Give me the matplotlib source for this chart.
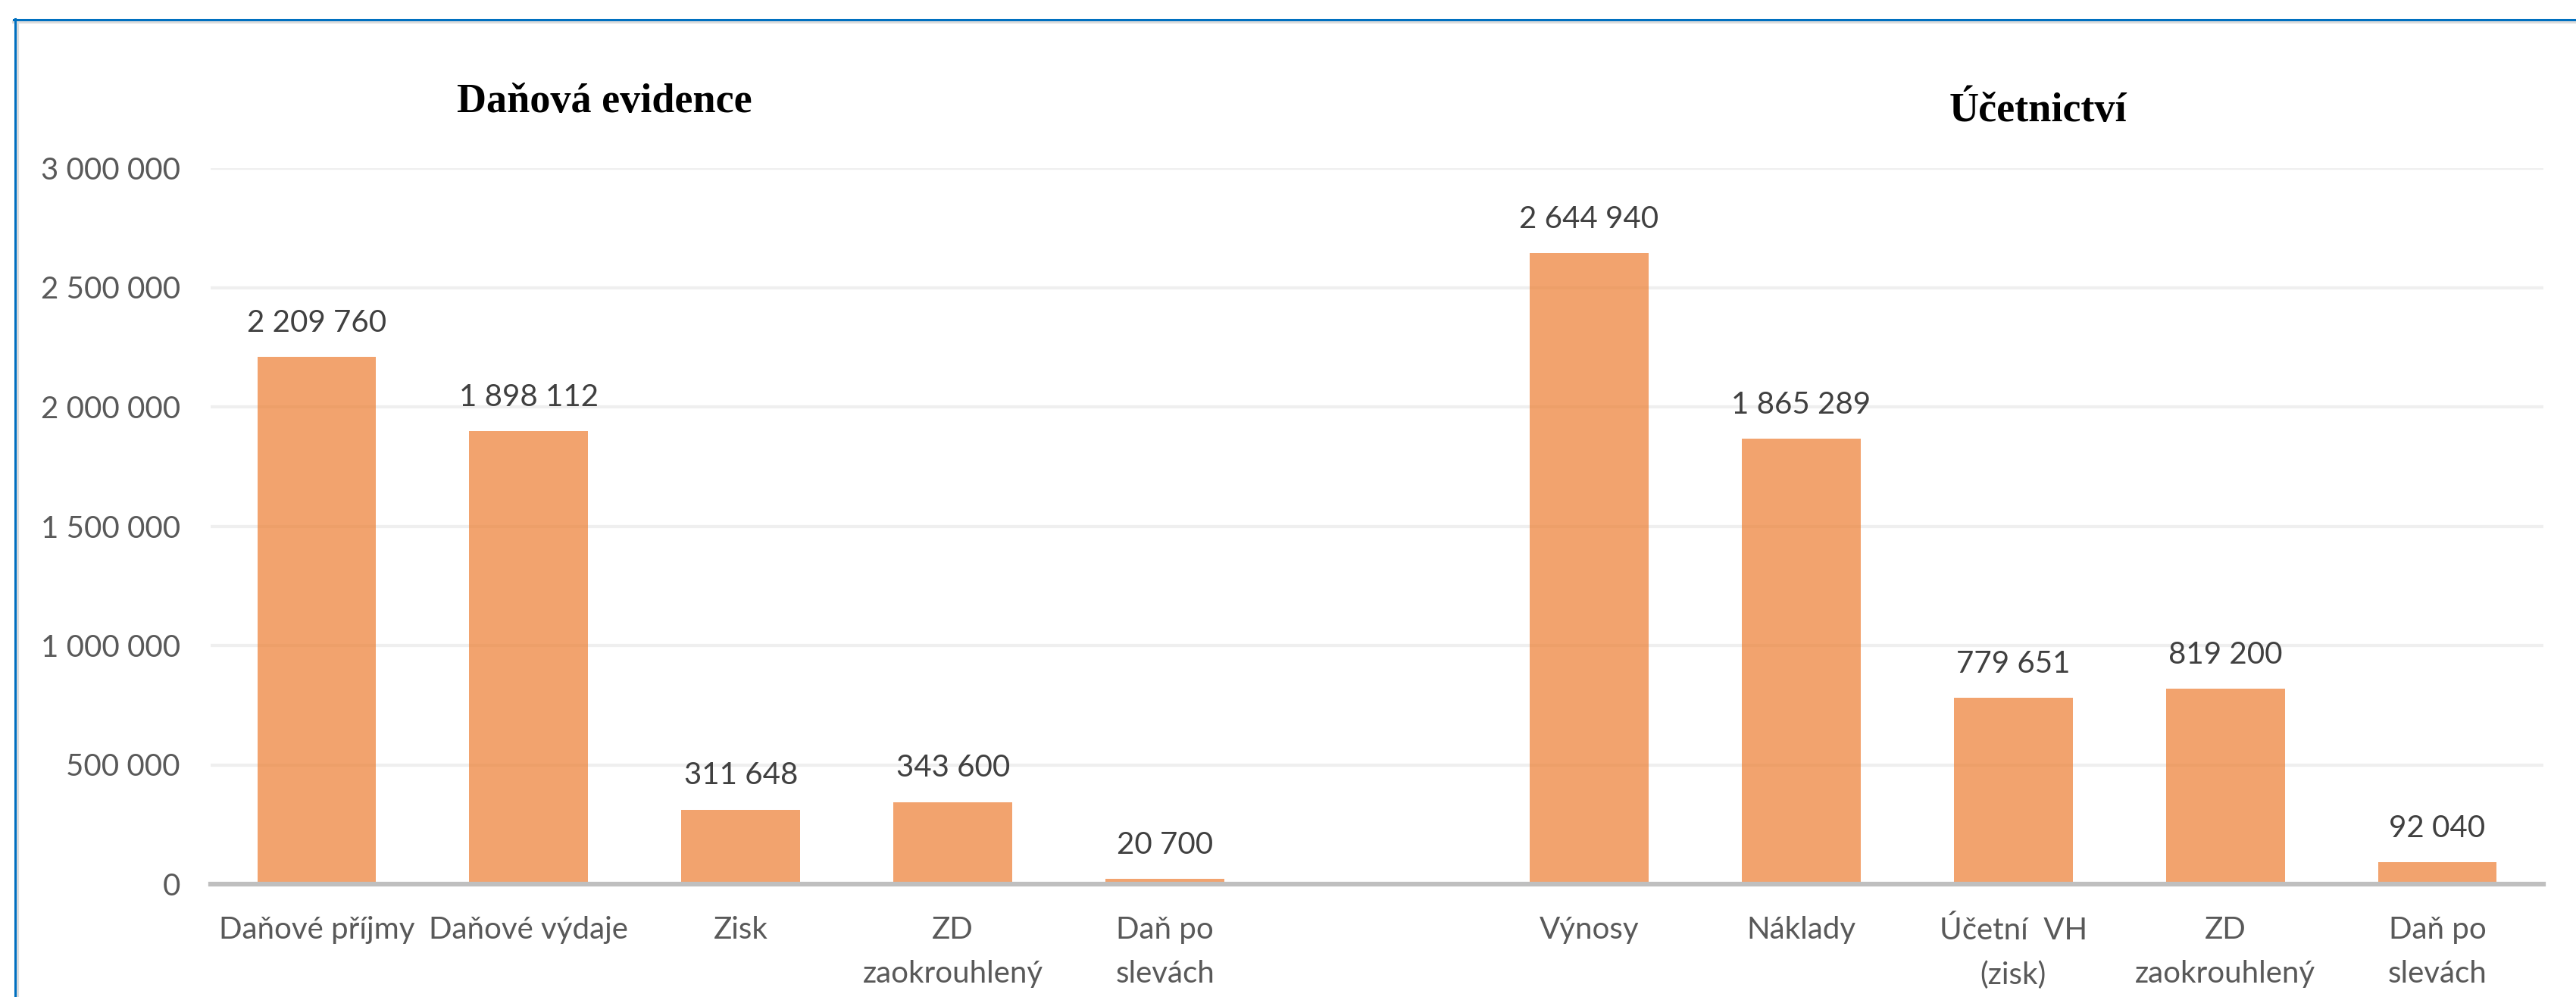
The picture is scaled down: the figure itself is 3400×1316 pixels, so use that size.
import matplotlib
matplotlib.use("Agg")
import matplotlib.pyplot as plt
from matplotlib.lines import Line2D

# ---- data ----
left_title = "Daňová evidence"
right_title = "Účetnictví"
left_categories = ["Daňové příjmy", "Daňové výdaje", "Zisk", "ZD\nzaokrouhlený", "Daň po\nslevách"]
left_values = [2209760, 1898112, 311648, 343600, 20700]
right_categories = ["Výnosy", "Náklady", "Účetní  VH\n(zisk)", "ZD\nzaokrouhlený", "Daň po\nslevách"]
right_values = [2644940, 1865289, 779651, 819200, 92040]
y_ticks = [0, 500000, 1000000, 1500000, 2000000, 2500000, 3000000]

def fmt(v):
    return f"{v:,}".replace(",", " ")

W, H = 3400, 1316
DPI = 100
fig = plt.figure(figsize=(W / DPI, H / DPI), dpi=DPI)
fig.patch.set_facecolor("white")

ax_l, ax_r = 278 / W, 3357 / W
ax_b, ax_t = (H - 1167) / H, (H - 222) / H
ax = fig.add_axes([ax_l, ax_b, ax_r - ax_l, ax_t - ax_b])

n_left = len(left_categories)
left_pos = list(range(n_left))
right_pos = [n_left + 1 + i for i in range(len(right_categories))]
positions = left_pos + right_pos
values = left_values + right_values
labels = left_categories + right_categories

bar_color = "#ED7D31"
ax.bar(positions, values, width=0.56, color=bar_color, alpha=0.7, zorder=2, linewidth=0)

font = "Lato"
for p, v in zip(positions, values):
    ax.annotate(fmt(v), xy=(p, v), xytext=(0, 24), textcoords="offset points",
                ha="center", va="baseline", fontsize=29, color="#404040", family=font)

ax.set_xlim(-0.5, positions[-1] + 0.5)
ax.set_ylim(0, 3000000)
ax.set_yticks(y_ticks)
ax.set_yticklabels([fmt(t) for t in y_ticks])
ax.set_xticks(positions)
ax.set_xticklabels(labels, linespacing=1.7)

for lab in ax.get_xticklabels() + ax.get_yticklabels():
    lab.set_family(font)
    lab.set_fontsize(29)
    lab.set_color("#595959")

ax.tick_params(axis="both", length=0)
ax.tick_params(axis="x", pad=30)
ax.tick_params(axis="y", pad=29)

ax.grid(axis="y", color="#EFEFEF", linewidth=3.0, zorder=0)
ax.set_axisbelow(True)
for s in ["top", "right", "left"]:
    ax.spines[s].set_visible(False)
ax.spines["bottom"].set_color("#BFBFBF")
ax.spines["bottom"].set_linewidth(4.5)
ax.spines["bottom"].set_zorder(3)

# titles
fig.text(798 / W, (H - 148) / H, left_title, ha="center", va="baseline",
         fontsize=39, fontweight="bold", family="Liberation Serif", color="black")
fig.text(2690 / W, (H - 160) / H, right_title, ha="center", va="baseline",
         fontsize=39, fontweight="bold", family="Liberation Serif", color="black")

# frame (top and left blue border with soft shadow)
blue = "#0070C0"
fig.add_artist(Line2D([18 / W, 1], [(H - 29) / H, (H - 29) / H], transform=fig.transFigure,
                      color="#DCDCDC", linewidth=3.0))
fig.add_artist(Line2D([23 / W, 23 / W], [0, (H - 27) / H], transform=fig.transFigure,
                      color="#DCDCDC", linewidth=3.0))
fig.add_artist(Line2D([18 / W, 1], [(H - 26) / H, (H - 26) / H], transform=fig.transFigure,
                      color=blue, linewidth=2.2))
fig.add_artist(Line2D([19.5 / W, 19.5 / W], [0, (H - 25) / H], transform=fig.transFigure,
                      color=blue, linewidth=2.2))

fig.savefig("out.png", dpi=DPI, facecolor="white")
